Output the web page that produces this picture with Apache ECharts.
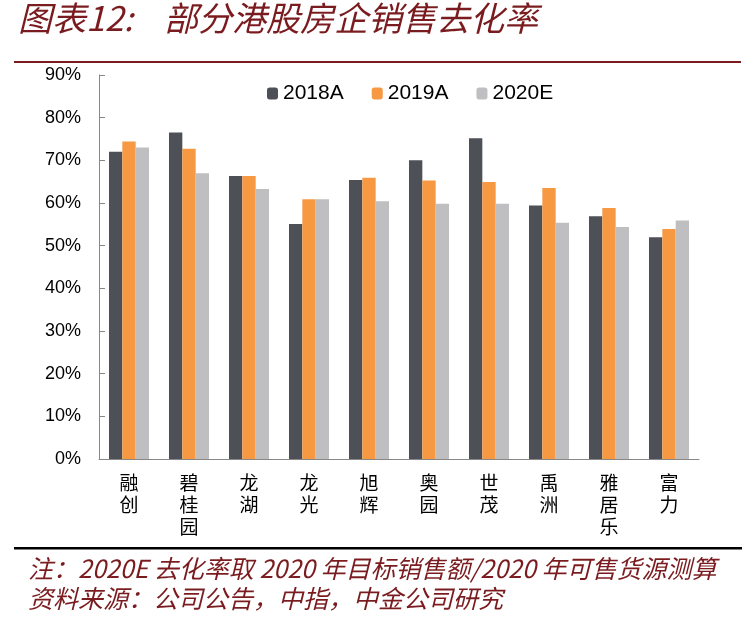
<!DOCTYPE html>
<html>
<head>
<meta charset="utf-8">
<script src="https://cdn.jsdelivr.net/npm/echarts@6/dist/echarts.min.js"></script>
<style>
    html, body { margin: 0; padding: 0; background: #fff; }
    #chart { width: 751px; height: 618px; }
</style>
</head>
<body>
<div id="chart"></div>
<script>
var companies = ['融创', '碧桂园', '龙湖', '龙光', '旭辉', '奥园', '世茂', '禹洲', '雅居乐', '富力'];
var rate2018 = [72.0, 76.5, 66.3, 55.1, 65.4, 70.0, 75.2, 59.4, 56.9, 52.0];
var rate2019 = [74.4, 72.7, 66.3, 60.9, 65.9, 65.3, 64.9, 63.5, 58.8, 53.9];
var rate2020 = [73.0, 67.0, 63.3, 60.9, 60.4, 59.8, 59.8, 55.4, 54.4, 55.9];

var myChart = echarts.init(document.getElementById('chart'));

var titleColor = '#7a1c1f';
var serifFont = '"Noto Sans CJK SC", serif';

option = {
    backgroundColor: '#fff',
    animation: false,
    legend: {
        top: 78,
        left: 262,
        itemWidth: 11,
        itemHeight: 12,
        itemGap: 28,
        textStyle: {
            fontFamily: '"Liberation Sans", Arial',
            fontSize: 21,
            color: '#000'
        },
        data: ['2018A', '2019A', '2020E']
    },
    grid: {
        left: 99,
        right: 52,
        top: 75,
        bottom: 159
    },
    xAxis: {
        type: 'category',
        data: companies,
        axisLine: { lineStyle: { color: '#888', width: 1 } },
        axisTick: { inside: true, length: 6, lineStyle: { color: '#888' } },
        axisLabel: {
            margin: 13,
            fontFamily: serifFont,
            fontSize: 19,
            lineHeight: 22,
            color: '#000',
            formatter: function (v) { return v.split('').join('\n'); }
        }
    },
    yAxis: {
        type: 'value',
        min: 0,
        max: 90,
        interval: 10,
        axisLine: { show: true, lineStyle: { color: '#888' } },
        axisTick: { show: true, inside: true, length: 6, lineStyle: { color: '#888' } },
        splitLine: { show: false },
        axisLabel: {
            margin: 18,
            fontFamily: '"Liberation Sans", Arial',
            fontSize: 18,
            color: '#000',
            formatter: '{value}%'
        }
    },
    series: [
        {
            name: '2018A',
            type: 'bar',
            data: rate2018,
            barGap: '0%',
            barCategoryGap: '33.3%',
            itemStyle: { color: '#4d5056' }
        },
        {
            name: '2019A',
            type: 'bar',
            data: rate2019,
            itemStyle: { color: '#f79843' }
        },
        {
            name: '2020E',
            type: 'bar',
            data: rate2020,
            itemStyle: { color: '#bfbfc1' }
        }
    ],
    graphic: [
        {
            type: 'text',
            left: 18,
            top: 1,
            style: {
                text: '图表12:',
                fontFamily: serifFont,
                fontStyle: 'italic',
                fontSize: 34,
                fill: titleColor
            }
        },
        {
            type: 'text',
            left: 164,
            top: 1,
            style: {
                text: '部分港股房企销售去化率',
                fontFamily: serifFont,
                fontStyle: 'italic',
                fontSize: 34,
                fill: titleColor
            }
        },
        {
            type: 'rect',
            shape: { x: 14, y: 61, width: 727, height: 2 },
            style: { fill: titleColor }
        },
        {
            type: 'rect',
            shape: { x: 14, y: 547, width: 728, height: 2.5 },
            style: { fill: '#000' }
        },
        {
            type: 'text',
            left: 28,
            top: 556,
            style: {
                text: '注：2020E 去化率取 2020 年目标销售额/2020 年可售货源测算',
                fontFamily: serifFont,
                fontStyle: 'italic',
                fontSize: 25,
                fill: titleColor
            }
        },
        {
            type: 'text',
            left: 28,
            top: 586,
            style: {
                text: '资料来源：公司公告，中指，中金公司研究',
                fontFamily: serifFont,
                fontStyle: 'italic',
                fontSize: 25,
                fill: titleColor
            }
        }
    ]
};

myChart.setOption(option);
</script>
</body>
</html>
